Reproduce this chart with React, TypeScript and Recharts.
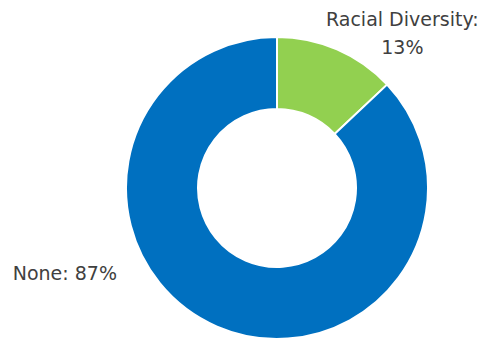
import { PieChart, Pie, Cell } from 'recharts';

const categories = ['Racial Diversity', 'None'];
const values = [13, 87];
const colors = ['#92D050', '#0070C0'];

const data = categories.map((name, i) => ({ name, value: values[i] }));

const TEXT = '#404040';
const FONT = '"DejaVu Sans", sans-serif';

function renderLabel(props: any) {
  const { cx, cy, outerRadius, index, name, percent } = props;
  const pct = `${Math.round(percent * 100)}%`;
  if (index === 0) {
    // two-line label above right, centred
    const x = cx + outerRadius * 0.83;
    const y = cy - outerRadius * 1.07;
    return (
      <text x={x} y={y} textAnchor="middle" fill={TEXT} fontSize={19} fontFamily={FONT}>
        <tspan x={x} dy={0}>{name}:</tspan>
        <tspan x={x} dy={28}>{pct}</tspan>
      </text>
    );
  }
  const x = cx - outerRadius - 9;
  const y = cy + outerRadius * 0.61;
  return (
    <text x={x} y={y} textAnchor="end" fill={TEXT} fontSize={19} fontFamily={FONT}>
      {name}: {pct}
    </text>
  );
}

export default function App() {
  return (
    <div style={{ position: 'absolute', left: 0, top: 0, width: 485, height: 341, background: '#fff' }}>
      <PieChart width={485} height={341}>
        <Pie
          data={data}
          dataKey="value"
          nameKey="name"
          cx={272}
          cy={183}
          innerRadius={79}
          outerRadius={151}
          startAngle={90}
          endAngle={-270}
          stroke="#ffffff"
          strokeWidth={2}
          label={renderLabel}
          labelLine={false}
          isAnimationActive={false}
        >
          {data.map((d, i) => (
            <Cell key={d.name} fill={colors[i]} />
          ))}
        </Pie>
      </PieChart>
    </div>
  );
}
